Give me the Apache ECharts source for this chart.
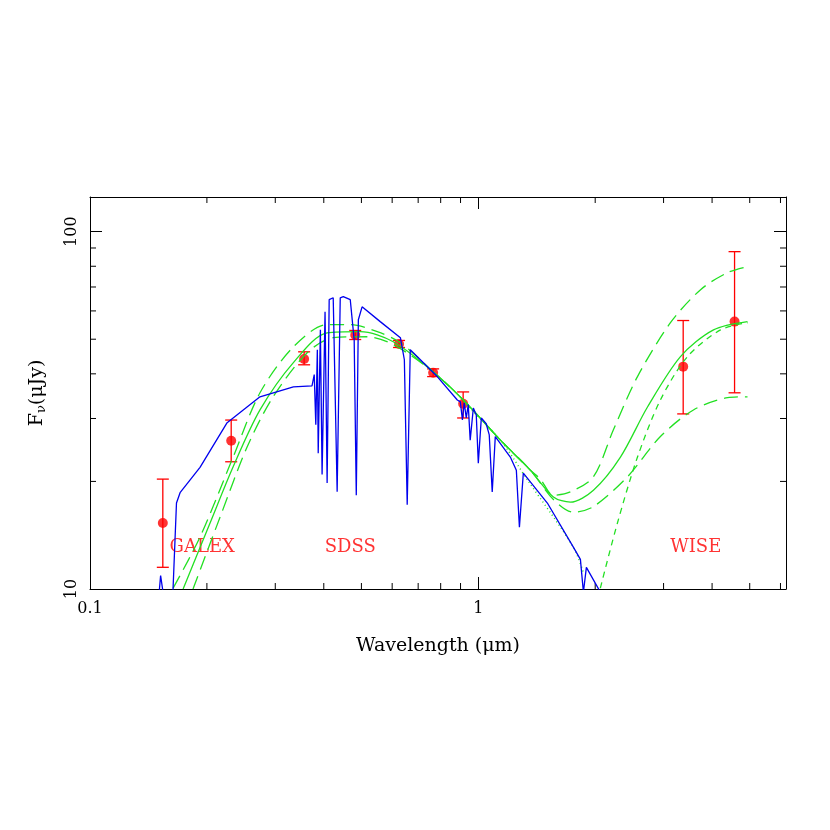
<!DOCTYPE html>
<html><head><meta charset="utf-8">
<script src="https://cdn.jsdelivr.net/npm/echarts@6/dist/echarts.min.js"></script>
<style>html,body{margin:0;padding:0;background:#fff}#c{width:830px;height:830px}</style>
</head><body><div id="c"></div>
<script>
// Photometry: wavelength (um), flux (uJy), lower, upper
const photLambda = [0.154, 0.231, 0.356, 0.482, 0.625, 0.765, 0.914, 3.37, 4.57];
const photFlux   = [15.3, 26.0, 44.0, 51.4, 48.5, 40.3, 33.0, 41.9, 56.0];
const photLow    = [11.5, 22.7, 42.4, 49.9, 47.4, 39.3, 30.1, 30.9, 35.4];
const photHigh   = [20.3, 29.7, 46.1, 52.9, 49.6, 41.3, 35.6, 56.4, 87.9];

// Blue model spectrum
const specBlue = [[0.1497,9],[0.152,10.9],[0.156,9],[0.163,9],[0.167,17.4],[0.1706,18.6],[0.192,21.9],[0.2255,29.2],[0.274,34.5],[0.334,36.8],[0.373,37.0],
[0.378,39.8],[0.3815,28.8],[0.385,46.7],[0.387,24.0],[0.392,53.1],[0.396,20.9],[0.403,59.7],[0.408,19.8],[0.413,64.5],[0.423,65.3],[0.433,18.7],[0.441,65.3],[0.449,65.8],[0.468,64.5],[0.479,49.8],[0.485,18.3],[0.491,56.7],[0.502,61.6],[0.559,56.0],[0.630,50.5],[0.645,43.8],[0.656,17.2],[0.668,46.7],[0.784,39.3],[0.883,33.8],[0.899,33.4],[0.910,29.7],[0.920,33.2],[0.931,30.1],[0.942,32.8],[0.953,26.1],[0.971,32.1],[0.988,30.7],[1.0,22.5],[1.018,30.1],[1.048,29.0],[1.067,27.0],[1.086,18.7],[1.106,26.7],[1.209,23.4],[1.253,21.5],[1.276,14.9],[1.306,21.1],[1.506,17.4],[1.757,13.1],[1.832,12.1],[1.865,9.8],[1.898,11.5],[2.062,9.8]];

// Green models
const greenA = [[0.1637,10.06],[0.192,13.98],[0.2337,23.4],[0.274,35.4],[0.334,47.6],[0.408,54.9],[0.468,54.9],[0.5493,52.5],[0.630,48.9],[0.7656,40.5],[0.915,33.8],[1.140,26.1],[1.362,21.5],[1.445,20.3],[1.561,18.3],[1.727,18.7],[1.979,20.6],[2.228,27.9],[2.570,39.3],[3.125,55.6],[3.736,68.8],[4.384,76.8],[4.935,79.8]];
const greenB = [[0.1737,10],[0.2038,15.3],[0.2337,21.98],[0.274,31.7],[0.334,43.0],[0.408,52.1],[0.4966,52.5],[0.604,49.2],[0.7656,40.5],[0.915,33.8],[1.140,26.1],[1.362,21.5],[1.561,18.1],[1.727,17.5],[1.979,18.9],[2.323,23.4],[2.727,32.3],[3.316,44.7],[4.034,53.1],[4.935,56.0]];
const greenC = [[0.1842,10],[0.2163,15.9],[0.2540,25.0],[0.2962,34.5],[0.3625,45.8],[0.423,50.5],[0.5176,50.8],[0.604,48.3],[0.7656,40.5],[0.915,33.8],[1.140,26.1],[1.362,21.5],[1.561,17.8],[1.757,16.4],[1.979,17.0],[2.421,20.6],[2.944,26.7],[3.581,31.7],[4.384,34.3],[4.935,34.5]];
const greenDust = [[2.062,10.06],[2.282,15.3],[2.570,23.4],[2.944,33.8],[3.457,44.7],[4.205,53.1],[4.935,55.6]];
const greenPhot = [[0.915,33.4],[1.140,26.1],[1.338,20.2],[1.757,13.1],[1.865,11.1]];

const bandNames = ['GALEX', 'SDSS', 'WISE'];
const bandLambda = [0.1945, 0.468, 3.63];
const bandFlux = [13.1, 13.1, 13.1];

const xMinorTicks = [0.2,0.3,0.4,0.5,0.6,0.7,0.8,0.9,2,3,4,5,6];
const yMinorTicks = [20,30,40,50,60,70,80,90];
const xMin = 0.1, xMax = 6.2, yMin = 10, yMax = 125;

const serif = '"DejaVu Serif","Liberation Serif",serif';
const ax = {lineStyle:{color:'#000',width:1}};

const chart = echarts.init(document.getElementById('c'));
const greenStyle = (type, w) => ({color:'#22e022', width:w||1.3, type:type});

chart.setOption({
  animation:false,
  grid:{left:90,right:44,top:197,bottom:241},
  xAxis:[
    {type:'log',logBase:10,min:xMin,max:xMax,axisLine:ax,splitLine:{show:false},
     axisTick:{inside:true,length:12,lineStyle:{color:'#000'}},
     axisLabel:{color:'#000',fontSize:16,fontFamily:serif,margin:12,showMaxLabel:false,formatter:v=>String(+v.toPrecision(2))},
     name:'Wavelength (\u03bcm)',nameLocation:'middle',nameGap:48,nameTextStyle:{color:'#000',fontSize:19,fontFamily:serif}},
    {type:'log',logBase:10,min:xMin,max:xMax,position:'top',axisLine:ax,splitLine:{show:false},
     axisTick:{inside:true,length:12,lineStyle:{color:'#000'}},axisLabel:{show:false}}
  ],
  yAxis:[
    {type:'log',logBase:10,min:yMin,max:yMax,axisLine:ax,splitLine:{show:false},
     axisTick:{inside:true,length:12,lineStyle:{color:'#000'}},
     axisLabel:{color:'#000',fontSize:16,fontFamily:serif,rotate:90,margin:10,showMaxLabel:false,formatter:v=>String(Math.round(v))},
     name:'{a|F}{s|\u03bd}{a|(\u03bcJy)}',nameLocation:'middle',nameGap:42,nameRotate:90,
     nameTextStyle:{rich:{a:{fontSize:19,fontFamily:serif,color:'#000'},s:{fontSize:13,fontFamily:serif,color:'#000',verticalAlign:'bottom',padding:[8,0,0,0]}}}},
    {type:'log',logBase:10,min:yMin,max:yMax,position:'right',axisLine:ax,splitLine:{show:false},
     axisTick:{inside:true,length:12,lineStyle:{color:'#000'}},axisLabel:{show:false}}
  ],
  series:[
    {type:'custom',silent:true,clip:false,data:xMinorTicks.map(v=>[v]),renderItem:(p,api)=>{
      const b=api.coord([api.value(0),yMin]), t=api.coord([api.value(0),yMax]);
      return {type:'group',children:[
        {type:'line',shape:{x1:b[0],y1:b[1],x2:b[0],y2:b[1]-6},style:{stroke:'#000',lineWidth:1}},
        {type:'line',shape:{x1:t[0],y1:t[1],x2:t[0],y2:t[1]+6},style:{stroke:'#000',lineWidth:1}}]};
    }},
    {type:'custom',silent:true,clip:false,data:yMinorTicks.map(v=>[xMin,v]),renderItem:(p,api)=>{
      const l=api.coord([xMin,api.value(1)]), r=api.coord([xMax,api.value(1)]);
      return {type:'group',children:[
        {type:'line',shape:{x1:l[0],y1:l[1],x2:l[0]+6,y2:l[1]},style:{stroke:'#000',lineWidth:1}},
        {type:'line',shape:{x1:r[0],y1:r[1],x2:r[0]-6,y2:r[1]},style:{stroke:'#000',lineWidth:1}}]};
    }},
    {type:'line',data:greenPhot,showSymbol:false,clip:true,smooth:0.3,lineStyle:greenStyle([1,3],1.5)},
    {type:'line',data:greenA,showSymbol:false,clip:true,smooth:0.3,lineStyle:greenStyle([14,7])},
    {type:'line',data:greenB,showSymbol:false,clip:true,smooth:0.3,lineStyle:greenStyle('solid')},
    {type:'line',data:greenC,showSymbol:false,clip:true,smooth:0.3,lineStyle:greenStyle([14,7])},
    {type:'line',data:greenDust,showSymbol:false,clip:true,smooth:0.3,lineStyle:greenStyle([6,5])},
    {type:'line',data:specBlue,showSymbol:false,clip:true,lineStyle:{color:'#0000ee',width:1.3}},
    {type:'custom',clip:false,data:photLambda.map((l,i)=>[l,photLow[i],photHigh[i]]),renderItem:(p,api)=>{
      const lo=api.coord([api.value(0),api.value(1)]), hi=api.coord([api.value(0),api.value(2)]);
      const s={stroke:'#ff0000',lineWidth:1.3}, c=6;
      return {type:'group',children:[
        {type:'line',shape:{x1:lo[0],y1:lo[1],x2:hi[0],y2:hi[1]},style:s},
        {type:'line',shape:{x1:lo[0]-c,y1:lo[1],x2:lo[0]+c,y2:lo[1]},style:s},
        {type:'line',shape:{x1:hi[0]-c,y1:hi[1],x2:hi[0]+c,y2:hi[1]},style:s}]};
    }},
    {type:'scatter',data:photLambda.map((l,i)=>[l,photFlux[i]]),symbol:'circle',symbolSize:10,itemStyle:{color:'#ff0000'}},
    {type:'scatter',data:bandLambda.map((l,i)=>({value:[l,bandFlux[i]],name:bandNames[i]})),symbolSize:0,
     label:{show:true,position:'inside',formatter:'{b}',color:'#ff0000',fontSize:18,fontFamily:serif}}
  ]
});
</script></body></html>
